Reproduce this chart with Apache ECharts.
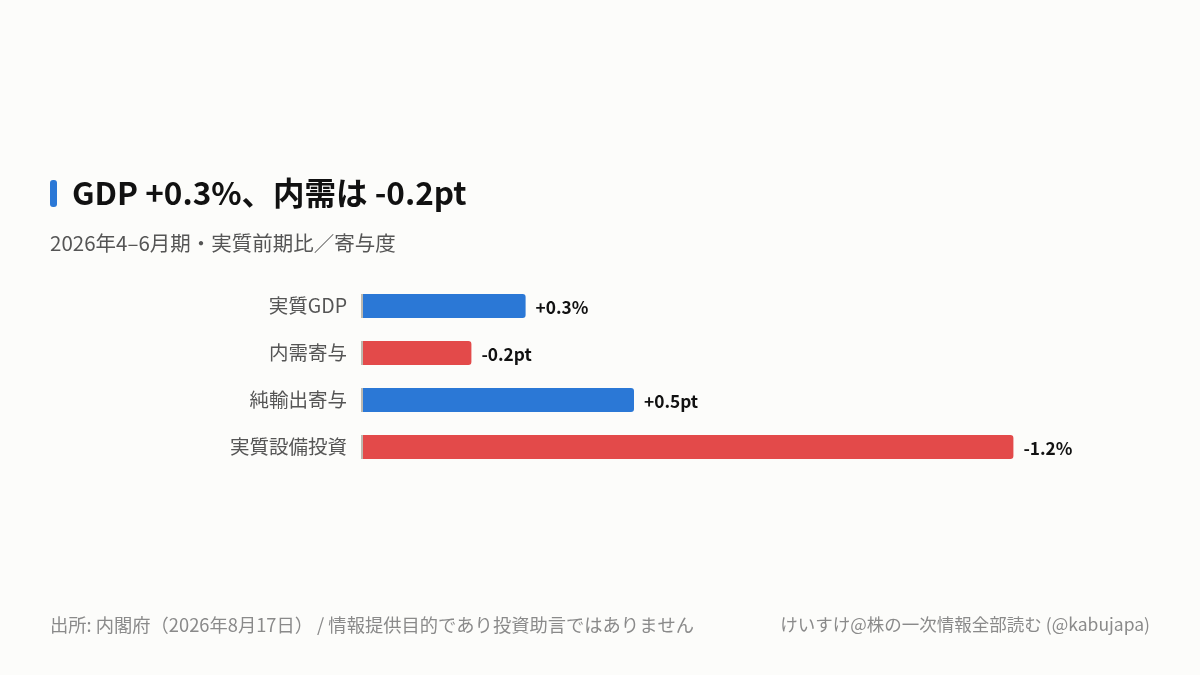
<!DOCTYPE html>
<html><head><meta charset="utf-8">
<script src="https://cdn.jsdelivr.net/npm/echarts@6/dist/echarts.min.js"></script>
<style>html,body{margin:0;padding:0;background:#FCFCFA;}#c{width:1200px;height:675px;}</style>
</head><body><div id="c"></div>
<script>
const categories = ['実質GDP', '内需寄与', '純輸出寄与', '実質設備投資'];
const values = [0.3, -0.2, 0.5, -1.2];
const valueLabels = ['+0.3%', '-0.2pt', '+0.5pt', '-1.2%'];
const titleText = 'GDP +0.3%、内需は -0.2pt';
const subtitleText = '2026年4–6月期・実質前期比／寄与度';
const sourceText = '出所: 内閣府（2026年8月17日） / 情報提供目的であり投資助言ではありません';
const creditText = 'けいすけ@株の一次情報全部読む (@kabujapa)';

const BLUE = '#2B78D6', RED = '#E34A4A', GRAY_TICK = '#BDB9B0';
const FONT = '"Noto Sans CJK JP", "Noto Sans", sans-serif';

const chart = echarts.init(document.getElementById('c'));
const data = values.map((v, i) => [Math.abs(v), i, v]);

chart.setOption({
  backgroundColor: '#FCFCFA',
  animation: false,
  textStyle: { fontFamily: FONT },
  graphic: [
    { type: 'rect', left: 50, top: 180, shape: { width: 7, height: 27, r: 3 }, style: { fill: BLUE } },
    { type: 'text', left: 72, top: 177, style: { text: titleText, font: 'bold 31.5px ' + FONT, fill: '#111' } },
    { type: 'text', left: 50, top: 233, style: { text: subtitleText, font: '20.5px ' + FONT, fill: '#555' } },
    { type: 'text', left: 50, top: 616, style: { text: sourceText, font: '18.3px ' + FONT, fill: '#8a8a8a' } },
    { type: 'text', right: 50, top: 616, style: { text: creditText, font: '17.5px ' + FONT, fill: '#8a8a8a' } }
  ],
  grid: { left: 363, right: 24, top: 282.5, height: 188 },
  xAxis: { type: 'value', min: 0, max: 1.5, show: false },
  yAxis: {
    type: 'category', data: categories, inverse: true,
    axisLine: { show: false }, axisTick: { show: false },
    axisLabel: { color: '#555', fontSize: 19.5, margin: 16, fontFamily: FONT }
  },
  series: [{
    type: 'custom',
    data: data,
    encode: { x: 0, y: 1 },
    renderItem: function (params, api) {
      const v = api.value(0), idx = api.value(1), raw = api.value(2);
      const start = api.coord([0, idx]);
      const end = api.coord([v, idx]);
      const h = 24;
      const color = raw >= 0 ? BLUE : RED;
      return {
        type: 'group',
        children: [
          { type: 'rect', shape: { x: start[0], y: start[1] - h / 2, width: end[0] - start[0], height: h, r: [0, 3, 3, 0] }, style: { fill: color } },
          { type: 'rect', shape: { x: start[0] - 2, y: start[1] - h / 2, width: 2, height: h }, style: { fill: GRAY_TICK } },
          { type: 'text', x: end[0] + 10, y: start[1] + 1, style: { text: valueLabels[params.dataIndex], font: 'bold 17.3px ' + FONT, fill: '#111', verticalAlign: 'middle', align: 'left' } }
        ]
      };
    }
  }]
});
</script></body></html>
